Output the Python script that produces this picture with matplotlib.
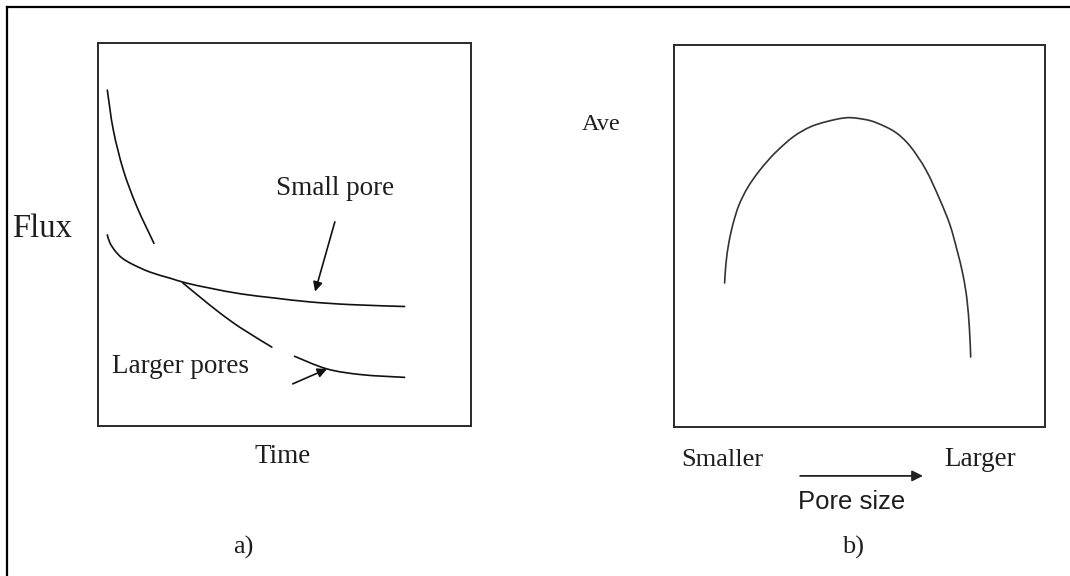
import matplotlib
matplotlib.use("Agg")
import matplotlib.pyplot as plt
from matplotlib.lines import Line2D
from matplotlib.path import Path
from matplotlib.patches import PathPatch

# ---------------- data (schematic) ----------------
# Panel a) Flux vs Time (axes units 0..10)
steep_x = [0.25, 0.41, 0.68, 1.04, 1.50]
steep_y = [8.77, 7.73, 6.68, 5.73, 4.77]

small_x = [0.25, 0.32, 0.46, 0.64, 0.91, 1.39, 1.93, 2.38, 3.00, 3.83, 4.75, 5.68, 6.76, 8.22]
small_y = [4.99, 4.78, 4.57, 4.39, 4.23, 4.02, 3.86, 3.73, 3.60, 3.45, 3.34, 3.24, 3.17, 3.12]

large1_x = [2.27, 2.73, 3.27, 3.83, 4.66]
large1_y = [3.74, 3.37, 2.95, 2.56, 2.06]
large2_x = [5.27, 6.14, 7.07, 8.22]
large2_y = [1.82, 1.49, 1.34, 1.27]

# Panel b) Ave vs Pore size (axes units 0..10)
ave_x = [1.364, 1.402, 1.477, 1.590, 1.752, 1.995, 2.318, 2.722, 3.208, 3.666, 4.124, 4.663,
         5.148, 5.472, 5.957, 6.361, 6.792, 7.170, 7.439, 7.628, 7.790, 7.898, 7.965, 7.997]
ave_y = [3.770, 4.293, 4.817, 5.314, 5.812, 6.283, 6.728, 7.173, 7.592, 7.853, 7.997, 8.097,
         8.050, 7.958, 7.723, 7.356, 6.728, 5.942, 5.288, 4.634, 3.979, 3.325, 2.539, 1.832]

# annotation arrows (tail -> head) in axes units
small_arrow = [(6.35, 5.33), (5.82, 3.51)]
large_arrow = [(5.22, 1.10), (6.14, 1.49)]
size_arrow = [(3.40, -1.28), (6.71, -1.28)]

# ---------------- figure ----------------
W, H = 1070, 576
fig = plt.figure(figsize=(W / 100, H / 100), dpi=100)
fig.patch.set_facecolor("white")

SERIF = ["Liberation Serif", "DejaVu Serif"]
SANS = ["Liberation Sans", "DejaVu Sans"]
TXT = "#1e1e1e"


def fx(px):
    return px / W


def fy(py):
    return 1 - py / H


def ftext(px, py, s, size, family=SERIF, ha="center", va="baseline"):
    fig.text(fx(px), fy(py), s, fontsize=size, family=family, color=TXT, ha=ha, va=va)


# outer frame (top and left lines only)
fig.add_artist(Line2D([fx(7), 1.0], [fy(7), fy(7)], transform=fig.transFigure, color="black", lw=1.6))
fig.add_artist(Line2D([fx(7), fx(7)], [fy(7), 0.0], transform=fig.transFigure, color="black", lw=1.6))


def make_axes(x0, y0, x1, y1):
    ax = fig.add_axes([fx(x0), fy(y1), (x1 - x0) / W, (y1 - y0) / H])
    ax.set_xlim(0, 10)
    ax.set_ylim(0, 10)
    ax.set_xticks([])
    ax.set_yticks([])
    for sp in ax.spines.values():
        sp.set_linewidth(1.4)
        sp.set_color("#2a2a2a")
    return ax


def smooth_curve(ax, xs, ys, color, lw):
    """Draw a smooth (Catmull-Rom style Bezier) path through the read points."""
    pts = list(zip(xs, ys))
    n = len(pts)
    verts = [pts[0]]
    codes = [Path.MOVETO]
    for i in range(n - 1):
        p0 = pts[i - 1] if i > 0 else pts[i]
        p1 = pts[i]
        p2 = pts[i + 1]
        p3 = pts[i + 2] if i + 2 < n else pts[i + 1]
        c1 = (p1[0] + (p2[0] - p0[0]) / 6, p1[1] + (p2[1] - p0[1]) / 6)
        c2 = (p2[0] - (p3[0] - p1[0]) / 6, p2[1] - (p3[1] - p1[1]) / 6)
        verts += [c1, c2, p2]
        codes += [Path.CURVE4] * 3
    ax.add_patch(PathPatch(Path(verts, codes), facecolor="none", edgecolor=color, lw=lw,
                           capstyle="round", joinstyle="round"))


axa = make_axes(98, 43, 471, 426)
axb = make_axes(674, 45, 1045, 427)

# ---- panel a curves ----
lc = "#111111"
smooth_curve(axa, steep_x, steep_y, lc, 1.2)
smooth_curve(axa, small_x, small_y, lc, 1.2)
smooth_curve(axa, large1_x, large1_y, lc, 1.2)
smooth_curve(axa, large2_x, large2_y, lc, 1.2)

arrow_kw = dict(arrowstyle="-|>", color=lc, lw=1.2, mutation_scale=14, shrinkA=0, shrinkB=0)
axa.annotate("", xy=small_arrow[1], xytext=small_arrow[0], arrowprops=arrow_kw, annotation_clip=False)
axa.annotate("", xy=large_arrow[1], xytext=large_arrow[0], arrowprops=arrow_kw, annotation_clip=False)

# ---- panel b curve ----
smooth_curve(axb, ave_x, ave_y, "#333333", 1.2)
axb.annotate("", xy=size_arrow[1], xytext=size_arrow[0],
             arrowprops=dict(arrowstyle="-|>", color="#222222", lw=1.3, mutation_scale=16,
                             shrinkA=0, shrinkB=0), annotation_clip=False)

# ---- texts ----
ftext(42, 237, "Flux", 23.5, ha="center")
ftext(335, 195, "Small pore", 19.5)
ftext(181, 373, "Larger pores", 19.5)
ftext(283, 463, "Time", 19.5)
ftext(243, 547, "a)", 19, va="center")

ftext(601, 130, "Ave", 17.5)
ftext(722, 466, "Smaller", 19)
ftext(980, 466, "Larger", 19.5)
ftext(852, 509, "Pore size", 18.5, family=SANS)
ftext(853, 547, "b)", 19, va="center")

fig.savefig("out.png", dpi=100, facecolor="white")
